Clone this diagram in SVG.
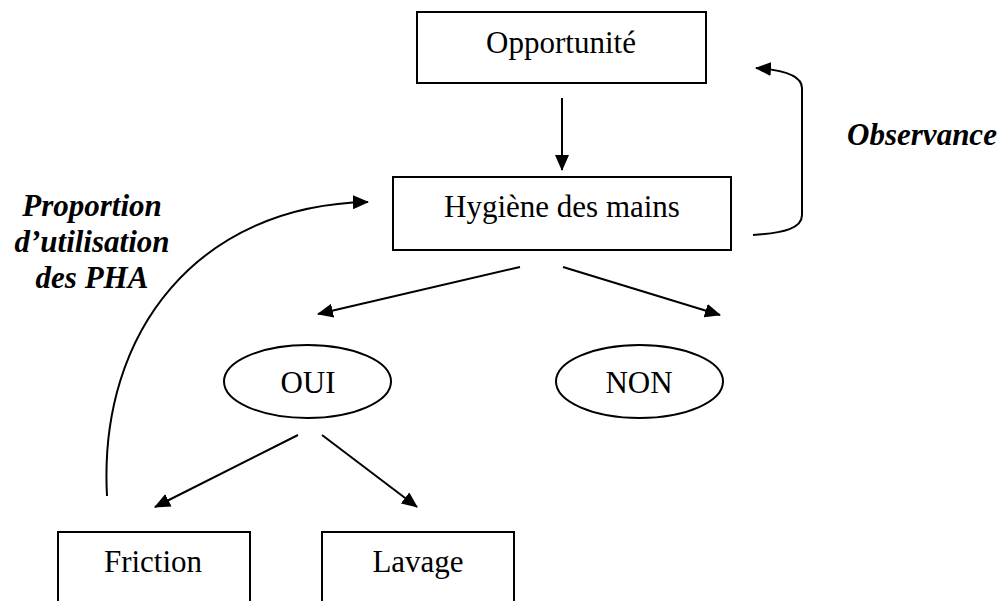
<svg xmlns="http://www.w3.org/2000/svg" width="1000" height="601" viewBox="0 0 1000 601">
<style>
.box{fill:#fff;stroke:#000;stroke-width:2}
.lbl{font-family:"Liberation Serif","Times New Roman",serif;font-size:31px;fill:#000;text-anchor:middle}
.bi{font-family:"Liberation Serif","Times New Roman",serif;font-size:31px;font-weight:bold;font-style:italic;fill:#000;text-anchor:middle}
.con{fill:none;stroke:#000;stroke-width:2}
</style>
<defs>
<marker id="ah" markerUnits="userSpaceOnUse" markerWidth="16" markerHeight="14" refX="15" refY="7" orient="auto">
<path d="M0,0 L16,7 L0,14 Z" fill="#000"/>
</marker>
</defs>
<rect width="1000" height="601" fill="#fff"/>
<g id="connectors">
<line class="con" x1="562" y1="98" x2="562" y2="170" marker-end="url(#ah)"/>
<path class="con" d="M753,235 C785,233 802,228 802,215 L802,88 C802,76 785,70 756,68" marker-end="url(#ah)"/>
<path class="con" d="M107,496 C98,330 200,205 368,202" marker-end="url(#ah)"/>
<line class="con" x1="520" y1="267" x2="318" y2="314" marker-end="url(#ah)"/>
<line class="con" x1="563" y1="267" x2="720" y2="315" marker-end="url(#ah)"/>
<line class="con" x1="298" y1="435" x2="155" y2="507" marker-end="url(#ah)"/>
<line class="con" x1="322" y1="435" x2="417" y2="507" marker-end="url(#ah)"/>
</g>
<g id="opportunite">
<rect class="box" x="417" y="12" width="289" height="71"/>
<text class="lbl" x="561" y="53">Opportunité</text>
</g>
<g id="hygiene">
<rect class="box" x="393" y="177" width="338" height="73"/>
<text class="lbl" x="562" y="217">Hygiène des mains</text>
</g>
<g id="oui">
<ellipse class="box" cx="307.5" cy="381.5" rx="83.5" ry="36.5"/>
<text class="lbl" x="308" y="393">OUI</text>
</g>
<g id="non">
<ellipse class="box" cx="639.5" cy="381.5" rx="83.5" ry="36.5"/>
<text class="lbl" x="639" y="393">NON</text>
</g>
<g id="friction">
<rect class="box" x="58" y="532" width="192" height="80"/>
<text class="lbl" x="153" y="572">Friction</text>
</g>
<g id="lavage">
<rect class="box" x="322" y="532" width="192" height="80"/>
<text class="lbl" x="418" y="572">Lavage</text>
</g>
<g id="labels">
<text class="bi" x="922" y="145">Observance</text>
<text class="bi" x="92" y="216">Proportion</text>
<text class="bi" x="92" y="252">d’utilisation</text>
<text class="bi" x="92" y="288">des PHA</text>
</g>
</svg>
